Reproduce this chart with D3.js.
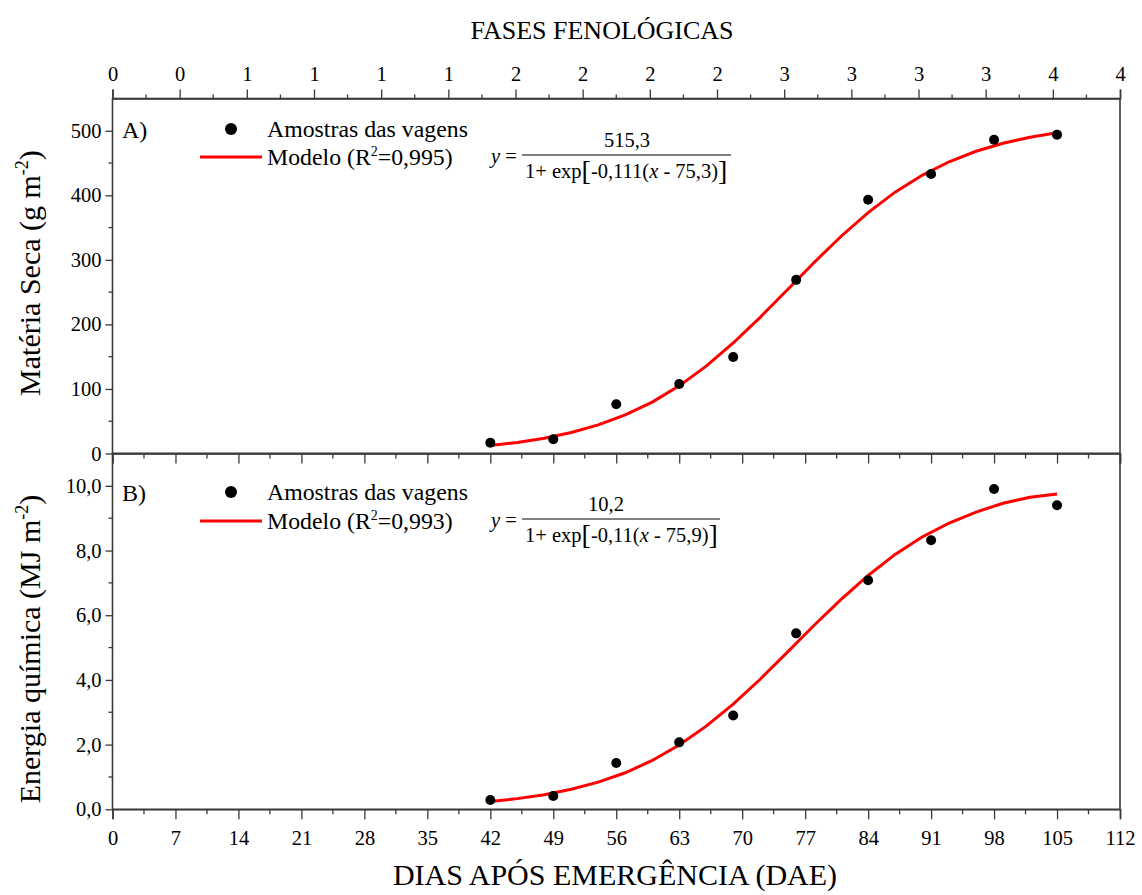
<!DOCTYPE html>
<html>
<head>
<meta charset="utf-8">
<script src="https://cdn.jsdelivr.net/npm/d3@7"></script>
<style>
  body { margin: 0; background: #fff; }
  svg text { font-family: "Liberation Serif", "Times New Roman", serif; fill: #000; }
</style>
</head>
<body>
<svg id="chart" width="1142" height="895"></svg>
<script>
// ---- Data ----
const days = [42, 49, 56, 63, 69, 76, 84, 91, 98, 105];
const materiaSeca = [16.7, 22, 76.3, 107.8, 149.6, 269, 393, 433, 486, 494];
const energiaQuimica = [0.29, 0.41, 1.43, 2.07, 2.90, 5.44, 7.08, 8.32, 9.90, 9.40];

// fitted model curves
const curveDays = [42, 45, 48, 51, 54, 57, 60, 63, 66, 69, 72, 75, 78, 81, 84, 87, 90, 93, 96, 99, 102, 105];
const modelA = [12.5, 17.2, 23.7, 32.5, 44.3, 59.8, 79.7, 104.8, 135.3, 171.2, 211.0, 253.3, 296.0, 336.6, 373.2, 404.9, 431.0, 452.0, 468.3, 480.7, 490.0, 496.9];
const modelB = [0.24, 0.33, 0.45, 0.62, 0.84, 1.13, 1.51, 1.99, 2.57, 3.25, 4.02, 4.85, 5.69, 6.49, 7.23, 7.88, 8.42, 8.85, 9.19, 9.46, 9.65, 9.75];

const xTicks = [0, 7, 14, 21, 28, 35, 42, 49, 56, 63, 70, 77, 84, 91, 98, 105, 112];
const phaseLabels = ["0", "0", "1", "1", "1", "1", "2", "2", "2", "2", "3", "3", "3", "3", "4", "4"];
const yTicksA = [0, 100, 200, 300, 400, 500];
const yTicksB = [0, 2, 4, 6, 8, 10];

// ---- Layout ----
const svg = d3.select("#chart");
const L = 112.5, R = 1120;
const topA = 98.5, botA = 453.5, botB = 809.3;
const axisColor = "#3a3a3a";

const x = d3.scaleLinear().domain([0, 112]).range([L, R]);
const xPhase = d3.scaleLinear().domain([0, phaseLabels.length - 1]).range([L, R]);
const yA = d3.scaleLinear().domain([0, 550]).range([botA, topA]);
const yB = d3.scaleLinear().domain([0, 11]).range([botB, botA]);

function styleAxis(g) {
  g.selectAll("path.domain").attr("stroke", axisColor).attr("stroke-width", 1.6);
  g.selectAll(".tick line").attr("stroke", axisColor).attr("stroke-width", 1.3);
  g.selectAll("text").attr("font-size", 20.5).attr("font-family", "Liberation Serif");
}

// Frames
[[topA, botA], [botA, botB]].forEach(([t, b]) => {
  svg.append("rect").attr("x", L).attr("y", t).attr("width", R - L).attr("height", b - t)
    .attr("fill", "none").attr("stroke", axisColor).attr("stroke-width", 1.6);
});

// Minor ticks helper
function minor(g, vals, fn) {
  g.selectAll(null).data(vals).enter().append("line")
    .attr("stroke", axisColor).attr("stroke-width", 1.3)
    .each(function(d) { fn(d3.select(this), d); });
}

// Top (phenological) axis
const gTop = svg.append("g").attr("transform", `translate(0,${topA})`)
  .call(d3.axisTop(xPhase).tickValues(d3.range(phaseLabels.length)).tickFormat(i => phaseLabels[i]).tickSize(9).tickPadding(9));
styleAxis(gTop);
minor(svg, d3.range(0.5, phaseLabels.length - 1, 1), (s, d) =>
  s.attr("x1", xPhase(d)).attr("x2", xPhase(d)).attr("y1", topA).attr("y2", topA - 4));

// Bottom axis of panel A (ticks only)
const gBotA = svg.append("g").attr("transform", `translate(0,${botA})`)
  .call(d3.axisBottom(x).tickValues(xTicks).tickFormat("").tickSize(10));
styleAxis(gBotA);
minor(svg, d3.range(3.5, 112, 7), (s, d) =>
  s.attr("x1", x(d)).attr("x2", x(d)).attr("y1", botA).attr("y2", botA + 5));

// Bottom axis panel B
const gBotB = svg.append("g").attr("transform", `translate(0,${botB})`)
  .call(d3.axisBottom(x).tickValues(xTicks).tickSize(10).tickPadding(11));
styleAxis(gBotB);
minor(svg, d3.range(3.5, 112, 7), (s, d) =>
  s.attr("x1", x(d)).attr("x2", x(d)).attr("y1", botB).attr("y2", botB + 5));

// Left axis A
const gLA = svg.append("g").attr("transform", `translate(${L},0)`)
  .call(d3.axisLeft(yA).tickValues(yTicksA).tickFormat(d3.format("d")).tickSize(7).tickPadding(4));
styleAxis(gLA);
gLA.select("path.domain").remove();
minor(svg, d3.range(50, 550, 100), (s, d) =>
  s.attr("x1", L).attr("x2", L - 4).attr("y1", yA(d)).attr("y2", yA(d)));

// Left axis B
const gLB = svg.append("g").attr("transform", `translate(${L},0)`)
  .call(d3.axisLeft(yB).tickValues(yTicksB).tickFormat(d => d3.format(".1f")(d).replace(".", ",")).tickSize(7).tickPadding(4));
styleAxis(gLB);
gLB.select("path.domain").remove();
minor(svg, d3.range(1, 11, 2), (s, d) =>
  s.attr("x1", L).attr("x2", L - 4).attr("y1", yB(d)).attr("y2", yB(d)));

// Curves
const lineA = d3.line().x((d, i) => x(curveDays[i])).y(d => yA(d));
const lineB = d3.line().x((d, i) => x(curveDays[i])).y(d => yB(d));
svg.append("path").datum(modelA).attr("d", lineA).attr("fill", "none").attr("stroke", "#ff0000").attr("stroke-width", 3);
svg.append("path").datum(modelB).attr("d", lineB).attr("fill", "none").attr("stroke", "#ff0000").attr("stroke-width", 3);

// Points
svg.append("g").selectAll("circle").data(materiaSeca).enter().append("circle")
  .attr("cx", (d, i) => x(days[i])).attr("cy", d => yA(d)).attr("r", 5).attr("fill", "#000");
svg.append("g").selectAll("circle").data(energiaQuimica).enter().append("circle")
  .attr("cx", (d, i) => x(days[i])).attr("cy", d => yB(d)).attr("r", 5).attr("fill", "#000");

// Axis titles
svg.append("text").attr("x", 602).attr("y", 39).attr("text-anchor", "middle").attr("font-size", 26)
  .text("FASES FENOLÓGICAS");
svg.append("text").attr("x", 615).attr("y", 885).attr("text-anchor", "middle").attr("font-size", 30)
  .text("DIAS APÓS EMERGÊNCIA (DAE)");

function yTitle(cy, main, unit) {
  const t = svg.append("text").attr("transform", `translate(40,${cy}) rotate(-90)`)
    .attr("text-anchor", "middle").attr("font-size", 30);
  t.append("tspan").text(main + " (" + unit + " m");
  t.append("tspan").attr("font-size", 18).attr("dy", -12).text("-2");
  t.append("tspan").attr("dy", 12).text(")");
}
yTitle(273, "Matéria Seca", "g");
yTitle(649, "Energia química", "MJ");

// Legends & equations
function legend(panel, dotY, lineY, r2, num, numCx, fracX2, k, x0) {
  svg.append("text").attr("x", 122).attr("y", dotY + 9).attr("font-size", 24).text(panel);
  svg.append("circle").attr("cx", 231).attr("cy", dotY).attr("r", 6).attr("fill", "#000");
  svg.append("text").attr("x", 267).attr("y", dotY + 8).attr("font-size", 23.8).text("Amostras das vagens");
  svg.append("line").attr("x1", 200).attr("x2", 262).attr("y1", lineY).attr("y2", lineY)
    .attr("stroke", "#ff0000").attr("stroke-width", 3);
  const m = svg.append("text").attr("x", 267).attr("y", lineY + 8).attr("font-size", 23.8);
  m.append("tspan").text("Modelo (R");
  m.append("tspan").attr("font-size", 14).attr("dy", -9).text("2");
  m.append("tspan").attr("dy", 9).text("=" + r2 + ")");
  // equation
  const e = svg.append("text").attr("x", 491).attr("y", lineY + 6).attr("font-size", 20.5);
  e.append("tspan").attr("font-style", "italic").text("y");
  e.append("tspan").text(" =");
  svg.append("line").attr("x1", 522).attr("x2", fracX2).attr("y1", lineY - 2).attr("y2", lineY - 2)
    .attr("stroke", "#000").attr("stroke-width", 1.2);
  svg.append("text").attr("x", numCx).attr("y", lineY - 10).attr("text-anchor", "middle").attr("font-size", 20.5).text(num);
  const dn = svg.append("text").attr("x", 525).attr("y", lineY + 21).attr("font-size", 20.5);
  dn.append("tspan").text("1+ exp");
  dn.append("tspan").attr("font-size", 28).attr("dy", 2).text("[");
  dn.append("tspan").attr("dy", -2).text(k + "(");
  dn.append("tspan").attr("font-style", "italic").text("x");
  dn.append("tspan").text(" - " + x0 + ")");
  dn.append("tspan").attr("font-size", 28).attr("dy", 2).text("]");
}
legend("A)", 129, 157, "0,995", "515,3", 627, 731, "-0,111", "75,3");
legend("B)", 492, 521, "0,993", "10,2", 606, 720, "-0,11", "75,9");
</script>
</body>
</html>
